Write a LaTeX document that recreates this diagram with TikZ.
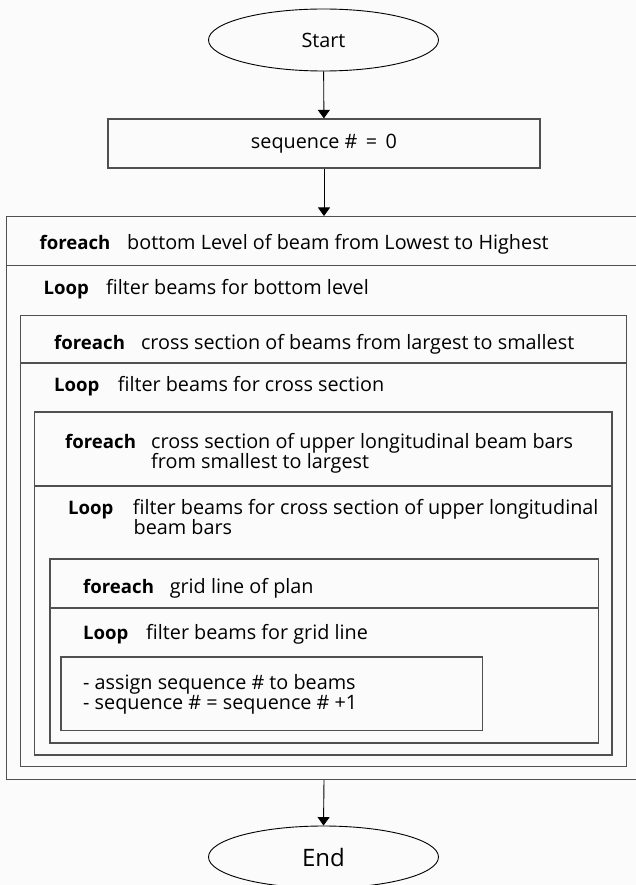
\documentclass[tikz,border=0pt]{standalone}
\usepackage{fontspec}
\setmainfont{Open Sans}
\usetikzlibrary{arrows.meta,shapes.geometric}

\definecolor{frameline}{HTML}{505050}
\definecolor{paper}{HTML}{FBFBFB}

\newcommand{\bodyfont}{\fontsize{19.8}{22}\selectfont}
\newcommand{\keyfont}{\fontsize{18.6}{22}\selectfont\bfseries}

\tikzset{
  terminal/.style={ellipse, draw=black, line width=0.9pt, inner sep=0pt,
    minimum width=230pt, minimum height=62pt, font=\bodyfont},
  procbox/.style={rectangle, draw=frameline, line width=1.2pt, inner sep=0pt,
    font=\bodyfont},
  loopframe/.style={rectangle, draw=frameline, line width=1.3pt, inner sep=0pt},
  divider/.style={draw=frameline, line width=1.3pt},
  kw/.style={anchor=mid west, inner sep=0pt, yshift=-4pt, font=\keyfont},
  txt/.style={anchor=mid west, inner sep=0pt, yshift=-4pt, font=\bodyfont},
  flow/.style={draw=black, line width=0.9pt, -{Triangle[length=8.5pt,width=12pt]}},
}

\begin{document}
\begin{tikzpicture}[x=1pt,y=-1pt]
  \useasboundingbox (0,0) rectangle (636,885);
  \fill[paper] (0,0) rectangle (636,885);
  \clip (0,0) rectangle (636,885);

  % start and initialisation
  \node[terminal] (start) at (323.5,40) {Start};
  \node[procbox, minimum width=432pt, minimum height=49pt] (init) at (324,143.5)
    {\raisebox{-2pt}{sequence \#\ \,=\ \,0}};

  % nested loop frames (outermost runs past the right edge)
  \node[loopframe, minimum width=640pt, minimum height=562.5pt] (lvl) at (326.7,497.9) {};
  \node[loopframe, minimum width=606pt, minimum height=451.5pt] (sec) at (323.7,541) {};
  \node[loopframe, minimum width=577.3pt, minimum height=343pt] (bar) at (323.4,583.5) {};
  \node[loopframe, minimum width=548.7pt, minimum height=184pt] (grid) at (324.4,651) {};
  \node[procbox, minimum width=421.8pt, minimum height=73.7pt] (body) at (271.9,693.9) {};

  % header separators
  \coordinate (lvlsep) at (0,265.7);
  \coordinate (secsep) at (0,363);
  \coordinate (barsep) at (0,486);
  \coordinate (gridsep) at (0,608);
  \draw[divider] (lvl.west |- lvlsep) -- (lvl.east |- lvlsep);
  \draw[divider] (sec.west |- secsep) -- (sec.east |- secsep);
  \draw[divider] (bar.west |- barsep) -- (bar.east |- barsep);
  \draw[divider] (grid.west |- gridsep) -- (grid.east |- gridsep);

  % level loop
  \node[kw] (kwA) at (39.4,242.7) {foreach};
  \node[txt] (txA) at (127,242.7) {bottom Level of beam from Lowest to Highest};
  \node[kw] (kwB) at (43.4,288) {Loop};
  \node[txt] (txB) at (106,288) {filter beams for bottom level};

  % cross-section loop
  \node[kw] (kwC) at (54,343) {foreach};
  \node[txt] (txC) at (140.8,343) {cross section of beams from largest to smallest};
  \node[kw] (kwD) at (54,385) {Loop};
  \node[txt] (txD) at (117.6,385) {filter beams for cross section};

  % upper-bar loop
  \node[kw] (kwE) at (65,441.7) {foreach};
  \node[txt] (txE1) at (151,441.7) {cross section of upper longitudinal beam bars};
  \node[txt] (txE2) at (151,461.7) {from smallest to largest};
  \node[kw] (kwF) at (68,507.7) {Loop};
  \node[txt] (txF1) at (132.7,507.7) {filter beams for cross section of upper longitudinal};
  \node[txt] (txF2) at (133.5,528) {beam bars};

  % grid-line loop
  \node[kw] (kwG) at (83,586.7) {foreach};
  \node[txt] (txG) at (169.6,586.7) {grid line of plan};
  \node[kw] (kwH) at (83,633) {Loop};
  \node[txt] (txH) at (146,633) {filter beams for grid line};

  % loop body
  \node[txt] (bodyA) at (83,682.7) {- assign sequence \# to beams};
  \node[txt] (bodyB) at (83,703) {- sequence \# = sequence \# +1};

  % end
  \node[terminal, font=\fontsize{24}{28}\selectfont] (stop) at (323.5,857) {End};

  % connectors
  \draw[flow] (start) -- (init);
  \draw[flow] (init.south) -- (init.south |- lvl.north);
  \draw[flow] (init.south |- lvl.south) -- (stop.north);
\end{tikzpicture}
\end{document}
